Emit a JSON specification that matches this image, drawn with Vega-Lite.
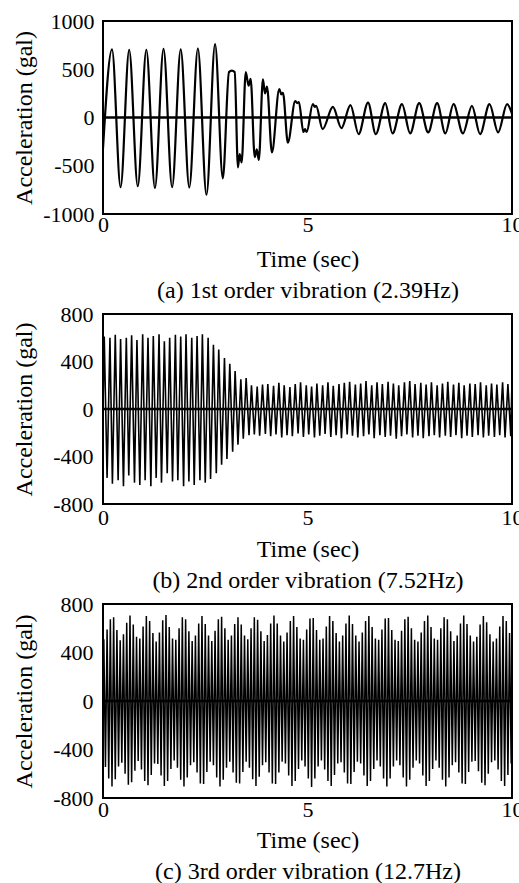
{
"$schema": "https://vega.github.io/schema/vega-lite/v6.json",
"background": "white",
"padding": {"left": 10, "top": 9, "right": 0, "bottom": 0},
"bounds": "flush",
"spacing": 100,
"config": {
  "font": "Liberation Serif",
  "view": {"stroke": "black", "strokeWidth": 2},
  "axis": {"grid": false, "ticks": false, "domain": false, "labelFont": "Liberation Serif", "labelFontSize": 22, "labelColor": "black", "titleFont": "Liberation Serif", "titleFontSize": 24, "titleFontWeight": "normal", "titleColor": "black"}
},
"vconcat": [
{
  "width": 409, "height": 193,
  "layer": [
    {"data": {"values": [
{"t":0,"v":-320},{"t":0.22,"v":705},{"t":0.43,"v":-722},{"t":0.64,"v":700},{"t":0.85,"v":-712},{"t":1.06,"v":702},{"t":1.27,"v":-730},{"t":1.48,"v":712},{"t":1.69,"v":-722},{"t":1.90,"v":705},{"t":2.11,"v":-725},{"t":2.32,"v":715},{"t":2.53,"v":-800},{"t":2.74,"v":760},{"t":2.93,"v":-630},{"t":3.08,"v":470},{"t":3.15,"v":485},{"t":3.22,"v":470},{"t":3.30,"v":-517},{"t":3.34,"v":-380},{"t":3.39,"v":-466},{"t":3.49,"v":470},{"t":3.56,"v":330},{"t":3.61,"v":400},{"t":3.71,"v":-410},{"t":3.76,"v":-330},{"t":3.81,"v":-440},{"t":3.91,"v":395},{"t":3.96,"v":250},{"t":4.01,"v":320},{"t":4.13,"v":-362},{"t":4.31,"v":295},{"t":4.36,"v":240},{"t":4.40,"v":255},{"t":4.52,"v":-260},{"t":4.70,"v":170},{"t":4.75,"v":150},{"t":4.79,"v":160},{"t":4.90,"v":-150},{"t":4.94,"v":-120},{"t":4.98,"v":-150},{"t":5.13,"v":140},{"t":5.18,"v":110},{"t":5.21,"v":120},{"t":5.37,"v":-121},{"t":5.62,"v":110},{"t":5.83,"v":-110},{"t":6.05,"v":128},{"t":6.25,"v":-172},{"t":6.48,"v":155},{"t":6.67,"v":-172},{"t":6.90,"v":148},{"t":7.08,"v":-165},{"t":7.31,"v":138},{"t":7.51,"v":-165},{"t":7.73,"v":148},{"t":7.95,"v":-155},{"t":8.17,"v":148},{"t":8.37,"v":-165},{"t":8.57,"v":138},{"t":8.80,"v":-165},{"t":9.02,"v":120},{"t":9.22,"v":-172},{"t":9.45,"v":138},{"t":9.66,"v":-155},{"t":9.88,"v":138},{"t":10,"v":40}
    ]},
     "mark": {"type": "line", "color": "black", "strokeWidth": 2.2, "interpolate": "monotone", "clip": true},
     "encoding": {
       "x": {"field": "t", "type": "quantitative", "scale": {"domain": [0, 10], "nice": false},
             "axis": {"values": [0, 5, 10], "title": ["Time (sec)", "(a) 1st order vibration (2.39Hz)"], "titleLineHeight": 31, "titleY": 33, "titleBaseline": "top", "labelPadding": 0, "labelFlush": false}},
       "y": {"field": "v", "type": "quantitative", "scale": {"domain": [-1000, 1000], "nice": false},
             "axis": {"values": [-1000, -500, 0, 500, 1000], "labelExpr": "'' + datum.value", "labelPadding": 9, "title": "Acceleration (gal)", "titleX": -79, "titleBaseline": "middle"}}
     }},
    {"data": {"values": [{"z": 0}]}, "mark": {"type": "rule", "color": "black", "strokeWidth": 2.5}, "encoding": {"y": {"field": "z", "type": "quantitative"}}}
  ]
},
{
  "width": 409, "height": 190,
  "layer": [
    {"data": {"values": [
{"t":0,"v":0},
{"t":0.03,"v":610},{"t":0.10,"v":-580},{"t":0.17,"v":600},{"t":0.23,"v":-630},{"t":0.30,"v":625},{"t":0.37,"v":-600},{"t":0.43,"v":590},{"t":0.50,"v":-650},{"t":0.57,"v":600},{"t":0.63,"v":-560},{"t":0.70,"v":620},{"t":0.77,"v":-620},{"t":0.83,"v":580},{"t":0.90,"v":-640},{"t":0.97,"v":630},
{"t":1.03,"v":-600},{"t":1.10,"v":600},{"t":1.17,"v":-650},{"t":1.23,"v":615},{"t":1.30,"v":-580},{"t":1.37,"v":630},{"t":1.43,"v":-620},{"t":1.50,"v":570},{"t":1.57,"v":-540},{"t":1.63,"v":600},{"t":1.70,"v":-610},{"t":1.77,"v":625},{"t":1.83,"v":-600},{"t":1.90,"v":610},{"t":1.97,"v":-650},
{"t":2.03,"v":630},{"t":2.10,"v":-610},{"t":2.17,"v":600},{"t":2.23,"v":-640},{"t":2.30,"v":615},{"t":2.37,"v":-600},{"t":2.43,"v":630},{"t":2.50,"v":-620},{"t":2.57,"v":600},{"t":2.63,"v":-590},{"t":2.70,"v":540},{"t":2.77,"v":-540},{"t":2.83,"v":500},{"t":2.90,"v":-470},{"t":2.97,"v":430},
{"t":3.03,"v":-420},{"t":3.10,"v":380},{"t":3.17,"v":-360},{"t":3.23,"v":320},{"t":3.30,"v":-300},{"t":3.37,"v":250},{"t":3.43,"v":-250},{"t":3.50,"v":260},{"t":3.57,"v":-220},{"t":3.63,"v":200},{"t":3.70,"v":-215},{"t":3.77,"v":190},{"t":3.83,"v":-225},{"t":3.90,"v":205},{"t":3.97,"v":-210},
{"t":4.03,"v":210},{"t":4.10,"v":-230},{"t":4.17,"v":195},{"t":4.23,"v":-215},{"t":4.30,"v":220},{"t":4.37,"v":-240},{"t":4.43,"v":200},{"t":4.50,"v":-220},{"t":4.57,"v":185},{"t":4.63,"v":-230},{"t":4.70,"v":210},{"t":4.77,"v":-205},{"t":4.83,"v":225},{"t":4.90,"v":-235},{"t":4.97,"v":200},
{"t":5.03,"v":-215},{"t":5.10,"v":190},{"t":5.17,"v":-240},{"t":5.23,"v":215},{"t":5.30,"v":-225},{"t":5.37,"v":200},{"t":5.43,"v":-210},{"t":5.50,"v":225},{"t":5.57,"v":-235},{"t":5.63,"v":195},{"t":5.70,"v":-220},{"t":5.77,"v":210},{"t":5.83,"v":-245},{"t":5.90,"v":220},{"t":5.97,"v":-215},
{"t":6.03,"v":230},{"t":6.10,"v":-225},{"t":6.17,"v":205},{"t":6.23,"v":-240},{"t":6.30,"v":215},{"t":6.37,"v":-230},{"t":6.43,"v":235},{"t":6.50,"v":-215},{"t":6.57,"v":200},{"t":6.63,"v":-245},{"t":6.70,"v":225},{"t":6.77,"v":-220},{"t":6.83,"v":210},{"t":6.90,"v":-235},{"t":6.97,"v":230},
{"t":7.03,"v":-225},{"t":7.10,"v":215},{"t":7.17,"v":-250},{"t":7.23,"v":200},{"t":7.30,"v":-230},{"t":7.37,"v":225},{"t":7.43,"v":-215},{"t":7.50,"v":235},{"t":7.57,"v":-240},{"t":7.63,"v":210},{"t":7.70,"v":-225},{"t":7.77,"v":220},{"t":7.83,"v":-245},{"t":7.90,"v":205},{"t":7.97,"v":-230},
{"t":8.03,"v":225},{"t":8.10,"v":-220},{"t":8.17,"v":200},{"t":8.23,"v":-240},{"t":8.30,"v":215},{"t":8.37,"v":-225},{"t":8.43,"v":230},{"t":8.50,"v":-235},{"t":8.57,"v":205},{"t":8.63,"v":-220},{"t":8.70,"v":220},{"t":8.77,"v":-245},{"t":8.83,"v":200},{"t":8.90,"v":-225},{"t":8.97,"v":215},
{"t":9.03,"v":-235},{"t":9.10,"v":210},{"t":9.17,"v":-220},{"t":9.23,"v":225},{"t":9.30,"v":-240},{"t":9.37,"v":200},{"t":9.43,"v":-225},{"t":9.50,"v":215},{"t":9.57,"v":-235},{"t":9.63,"v":205},{"t":9.70,"v":-220},{"t":9.77,"v":225},{"t":9.83,"v":-240},{"t":9.90,"v":210},{"t":9.97,"v":-230},{"t":10,"v":240}
    ]},
     "mark": {"type": "line", "color": "black", "strokeWidth": 1.6, "clip": true},
     "encoding": {
       "x": {"field": "t", "type": "quantitative", "scale": {"domain": [0, 10], "nice": false},
             "axis": {"values": [0, 5, 10], "title": ["Time (sec)", "(b) 2nd order vibration (7.52Hz)"], "titleLineHeight": 31, "titleY": 33, "titleBaseline": "top", "labelPadding": 3, "labelFlush": false}},
       "y": {"field": "v", "type": "quantitative", "scale": {"domain": [-800, 800], "nice": false},
             "axis": {"values": [-800, -400, 0, 400, 800], "labelExpr": "'' + datum.value", "labelPadding": 10, "title": "Acceleration (gal)", "titleX": -79, "titleBaseline": "middle"}}
     }},
    {"data": {"values": [{"z": 0}]}, "mark": {"type": "rule", "color": "black", "strokeWidth": 2.5}, "encoding": {"y": {"field": "z", "type": "quantitative"}}}
  ]
},
{
  "width": 409, "height": 194,
  "layer": [
    {"data": {"values": [
{"t":0,"v":0},
{"t":0.02,"v":510},{"t":0.06,"v":-545},{"t":0.10,"v":590},{"t":0.14,"v":-640},{"t":0.18,"v":675},{"t":0.22,"v":-705},{"t":0.26,"v":690},{"t":0.30,"v":-645},{"t":0.34,"v":585},{"t":0.38,"v":-540},
{"t":0.42,"v":500},{"t":0.46,"v":-510},{"t":0.50,"v":550},{"t":0.54,"v":-600},{"t":0.58,"v":645},{"t":0.62,"v":-690},{"t":0.66,"v":705},{"t":0.70,"v":-670},{"t":0.74,"v":630},{"t":0.78,"v":-575},
{"t":0.82,"v":530},{"t":0.86,"v":-495},{"t":0.90,"v":515},{"t":0.94,"v":-565},{"t":0.98,"v":615},{"t":1.02,"v":-660},{"t":1.06,"v":700},{"t":1.10,"v":-695},{"t":1.14,"v":660},{"t":1.18,"v":-610},
{"t":1.22,"v":560},{"t":1.26,"v":-515},{"t":1.30,"v":490},{"t":1.34,"v":-520},{"t":1.38,"v":565},{"t":1.42,"v":-615},{"t":1.46,"v":665},{"t":1.50,"v":-700},{"t":1.54,"v":710},{"t":1.58,"v":-660},
{"t":1.62,"v":610},{"t":1.66,"v":-560},{"t":1.70,"v":515},{"t":1.74,"v":-490},{"t":1.78,"v":505},{"t":1.82,"v":-550},{"t":1.86,"v":600},{"t":1.90,"v":-650},{"t":1.94,"v":690},{"t":1.98,"v":-705},
{"t":2.02,"v":675},{"t":2.06,"v":-630},{"t":2.10,"v":575},{"t":2.14,"v":-530},{"t":2.18,"v":495},{"t":2.22,"v":-505},{"t":2.26,"v":540},{"t":2.30,"v":-590},{"t":2.34,"v":640},{"t":2.38,"v":-680},
{"t":2.42,"v":700},{"t":2.46,"v":-685},{"t":2.50,"v":635},{"t":2.54,"v":-585},{"t":2.58,"v":540},{"t":2.62,"v":-500},{"t":2.66,"v":495},{"t":2.70,"v":-530},{"t":2.74,"v":580},{"t":2.78,"v":-630},
{"t":2.82,"v":675},{"t":2.86,"v":-705},{"t":2.90,"v":695},{"t":2.94,"v":-650},{"t":2.98,"v":600},{"t":3.02,"v":-550},{"t":3.06,"v":505},{"t":3.10,"v":-500},{"t":3.14,"v":540},{"t":3.18,"v":-590},
{"t":3.22,"v":635},{"t":3.26,"v":-675},{"t":3.30,"v":690},{"t":3.34,"v":-680},{"t":3.38,"v":630},{"t":3.42,"v":-585},{"t":3.46,"v":540},{"t":3.50,"v":-500},{"t":3.54,"v":510},{"t":3.58,"v":-550},
{"t":3.62,"v":600},{"t":3.66,"v":-645},{"t":3.70,"v":690},{"t":3.74,"v":-700},{"t":3.78,"v":670},{"t":3.82,"v":-625},{"t":3.86,"v":575},{"t":3.90,"v":-530},{"t":3.94,"v":495},{"t":3.98,"v":-505},
{"t":4.02,"v":545},{"t":4.06,"v":-590},{"t":4.10,"v":640},{"t":4.14,"v":-680},{"t":4.18,"v":705},{"t":4.22,"v":-685},{"t":4.26,"v":640},{"t":4.30,"v":-590},{"t":4.34,"v":540},{"t":4.38,"v":-500},
{"t":4.42,"v":490},{"t":4.46,"v":-515},{"t":4.50,"v":565},{"t":4.54,"v":-615},{"t":4.58,"v":660},{"t":4.62,"v":-700},{"t":4.66,"v":700},{"t":4.70,"v":-660},{"t":4.74,"v":610},{"t":4.78,"v":-560},
{"t":4.82,"v":515},{"t":4.86,"v":-490},{"t":4.90,"v":505},{"t":4.94,"v":-540},{"t":4.98,"v":590},{"t":5.02,"v":-640},{"t":5.06,"v":680},{"t":5.10,"v":-710},{"t":5.14,"v":685},{"t":5.18,"v":-640},
{"t":5.22,"v":585},{"t":5.26,"v":-540},{"t":5.30,"v":505},{"t":5.34,"v":-490},{"t":5.38,"v":515},{"t":5.42,"v":-565},{"t":5.46,"v":615},{"t":5.50,"v":-660},{"t":5.54,"v":700},{"t":5.58,"v":-700},
{"t":5.62,"v":660},{"t":5.66,"v":-610},{"t":5.70,"v":560},{"t":5.74,"v":-515},{"t":5.78,"v":490},{"t":5.82,"v":-505},{"t":5.86,"v":540},{"t":5.90,"v":-590},{"t":5.94,"v":640},{"t":5.98,"v":-680},
{"t":6.02,"v":705},{"t":6.06,"v":-685},{"t":6.10,"v":635},{"t":6.14,"v":-585},{"t":6.18,"v":540},{"t":6.22,"v":-500},{"t":6.26,"v":490},{"t":6.30,"v":-515},{"t":6.34,"v":565},{"t":6.38,"v":-615},
{"t":6.42,"v":660},{"t":6.46,"v":-700},{"t":6.50,"v":700},{"t":6.54,"v":-660},{"t":6.58,"v":610},{"t":6.62,"v":-560},{"t":6.66,"v":515},{"t":6.70,"v":-490},{"t":6.74,"v":505},{"t":6.78,"v":-540},
{"t":6.82,"v":590},{"t":6.86,"v":-640},{"t":6.90,"v":680},{"t":6.94,"v":-705},{"t":6.98,"v":685},{"t":7.02,"v":-640},{"t":7.06,"v":585},{"t":7.10,"v":-540},{"t":7.14,"v":505},{"t":7.18,"v":-490},
{"t":7.22,"v":495},{"t":7.26,"v":-530},{"t":7.30,"v":580},{"t":7.34,"v":-630},{"t":7.38,"v":675},{"t":7.42,"v":-705},{"t":7.46,"v":695},{"t":7.50,"v":-650},{"t":7.54,"v":600},{"t":7.58,"v":-550},
{"t":7.62,"v":505},{"t":7.66,"v":-490},{"t":7.70,"v":490},{"t":7.74,"v":-515},{"t":7.78,"v":565},{"t":7.82,"v":-615},{"t":7.86,"v":660},{"t":7.90,"v":-700},{"t":7.94,"v":705},{"t":7.98,"v":-660},
{"t":8.02,"v":610},{"t":8.06,"v":-560},{"t":8.10,"v":515},{"t":8.14,"v":-490},{"t":8.18,"v":505},{"t":8.22,"v":-550},{"t":8.26,"v":600},{"t":8.30,"v":-650},{"t":8.34,"v":690},{"t":8.38,"v":-705},
{"t":8.42,"v":675},{"t":8.46,"v":-630},{"t":8.50,"v":575},{"t":8.54,"v":-530},{"t":8.58,"v":495},{"t":8.62,"v":-505},{"t":8.66,"v":540},{"t":8.70,"v":-590},{"t":8.74,"v":640},{"t":8.78,"v":-680},
{"t":8.82,"v":705},{"t":8.86,"v":-685},{"t":8.90,"v":635},{"t":8.94,"v":-585},{"t":8.98,"v":540},{"t":9.02,"v":-500},{"t":9.06,"v":490},{"t":9.10,"v":-495},{"t":9.14,"v":530},{"t":9.18,"v":-580},
{"t":9.22,"v":630},{"t":9.26,"v":-675},{"t":9.30,"v":700},{"t":9.34,"v":-695},{"t":9.38,"v":650},{"t":9.42,"v":-600},{"t":9.46,"v":550},{"t":9.50,"v":-505},{"t":9.54,"v":490},{"t":9.58,"v":-490},
{"t":9.62,"v":515},{"t":9.66,"v":-565},{"t":9.70,"v":615},{"t":9.74,"v":-660},{"t":9.78,"v":700},{"t":9.82,"v":-700},{"t":9.86,"v":660},{"t":9.90,"v":-610},{"t":9.94,"v":560},{"t":9.98,"v":-515}
    ]},
     "mark": {"type": "line", "color": "black", "strokeWidth": 1.5, "clip": true},
     "encoding": {
       "x": {"field": "t", "type": "quantitative", "scale": {"domain": [0, 10], "nice": false},
             "axis": {"values": [0, 5, 10], "title": ["Time (sec)", "(c) 3rd order vibration  (12.7Hz)"], "titleLineHeight": 31, "titleY": 30, "titleBaseline": "top", "labelPadding": 1, "labelFlush": false}},
       "y": {"field": "v", "type": "quantitative", "scale": {"domain": [-800, 800], "nice": false},
             "axis": {"values": [-800, -400, 0, 400, 800], "labelExpr": "'' + datum.value", "labelPadding": 10, "title": "Acceleration (gal)", "titleX": -79, "titleBaseline": "middle"}}
     }},
    {"data": {"values": [{"z": 0}]}, "mark": {"type": "rule", "color": "black", "strokeWidth": 2.5}, "encoding": {"y": {"field": "z", "type": "quantitative"}}}
  ]
}
]
}
